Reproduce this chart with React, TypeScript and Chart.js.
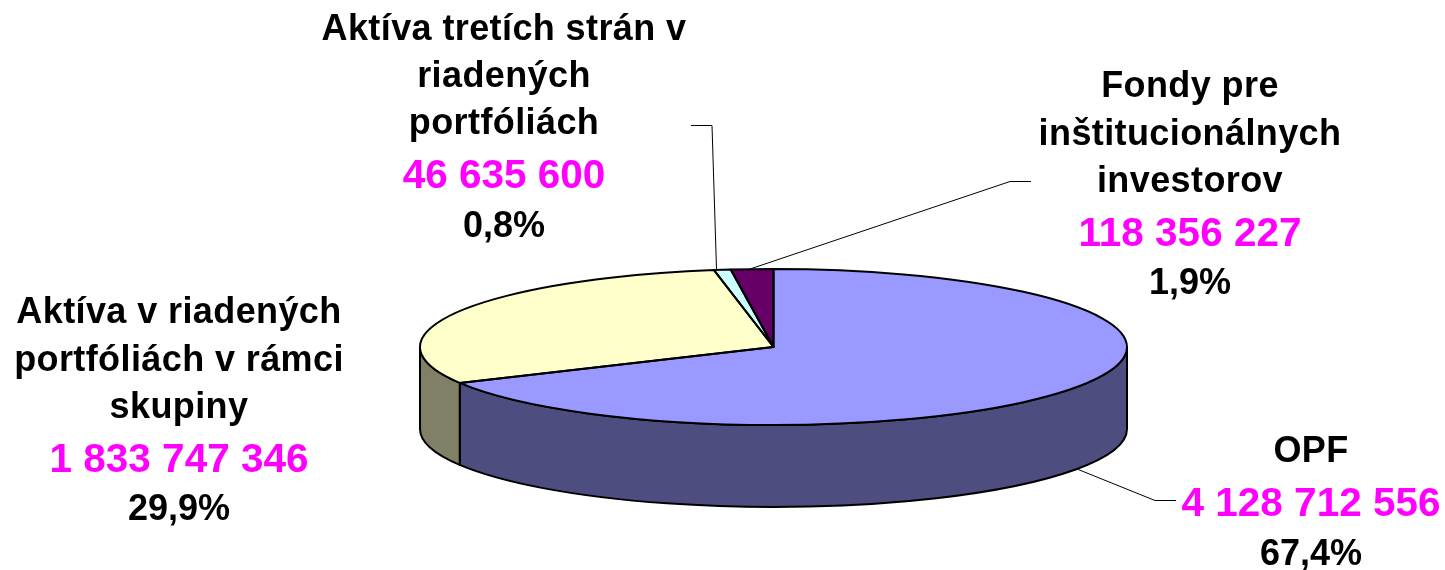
import React, { useEffect, useRef } from "react";
import { Chart, registerables } from "chart.js";

Chart.register(...registerables);

const categories = ["OPF", "Aktíva v riadených portfóliách v rámci skupiny", "Aktíva tretích strán v riadených portfóliách", "Fondy pre inštitucionálnych investorov"];
const values = [4128712556, 1833747346, 46635600, 118356227];
const valueLabels = ["4 128 712 556", "1 833 747 346", "46 635 600", "118 356 227"];
const percentLabels = ["67,4%", "29,9%", "0,8%", "1,9%"];
const nameLines = [
  ["OPF"],
  ["Aktíva v riadených", "portfóliách v rámci", "skupiny"],
  ["Aktíva tretích strán v", "riadených", "portfóliách"],
  ["Fondy pre", "inštitucionálnych", "investorov"],
];
const topColors = ["#9999FF", "#FFFFCC", "#CCFFFF", "#660066"];
const wallColors = ["#4D4D80", "#808066", "#668080", "#330033"];

// Layout of the text blocks: centre x and the baselines of each line.
const labelCentres = [1311, 179, 504, 1190];
const labelBaselines = [
  [462, 516, 565],
  [323, 371, 418, 472, 520],
  [40, 87, 134, 188, 237],
  [97, 145, 192, 246, 294],
];
// Leader line elbows, and their ends beside the labels.
const leaders = [
  { edge: 0, elbow: [1155, 500.5], end: [1176, 500.5] },
  { edge: 2, elbow: [712, 125.5], end: [691, 125.5] },
  { edge: 3, elbow: [1010, 181.5], end: [1031, 181.5] },
];
const leaderEnds: Record<number, [number, number]> = { 0: [1077, 469], 2: [716.5, 269], 3: [750, 269] };

const RX = 353.5;
const RY = 78;
const DEPTH = 82;
const CX = 773.5;
const CY = 347;

const pie3d = {
  id: "pie3d",
  beforeDatasetsDraw(chart: any) {
    const ctx = chart.ctx;
    const arcs = chart.getDatasetMeta(0).data;
    // walls: the part of every slice that faces front
    ctx.save();
    ctx.lineWidth = 2;
    ctx.strokeStyle = "#000";
    ctx.lineJoin = "round";
    arcs.forEach((arc: any, i: number) => {
      const a0 = Math.max(arc.startAngle, 0);
      const a1 = Math.min(arc.endAngle, Math.PI);
      if (a1 <= a0) return;
      ctx.beginPath();
      ctx.ellipse(arc.x, arc.y, RX, RY, 0, a0, a1);
      ctx.ellipse(arc.x, arc.y + DEPTH, RX, RY, 0, a1, a0, true);
      ctx.closePath();
      ctx.fillStyle = wallColors[i];
      ctx.fill();
      ctx.stroke();
    });
    ctx.restore();
    // flatten the pie itself
    ctx.save();
    ctx.translate(CX, CY);
    ctx.scale(1, RY / RX);
    ctx.translate(-CX, -CY);
  },
  afterDatasetsDraw(chart: any) {
    const ctx = chart.ctx;
    ctx.restore();
    const arcs = chart.getDatasetMeta(0).data;
    ctx.save();
    ctx.lineWidth = 2;
    ctx.strokeStyle = "#000";
    ctx.lineJoin = "round";
    arcs.forEach((arc: any) => {
      ctx.beginPath();
      ctx.moveTo(arc.x, arc.y);
      ctx.ellipse(arc.x, arc.y, RX, RY, 0, arc.startAngle, arc.endAngle);
      ctx.closePath();
      ctx.stroke();
    });
    ctx.restore();
  },
  afterDraw(chart: any) {
    const ctx = chart.ctx;
    ctx.save();
    ctx.strokeStyle = "#000";
    ctx.lineWidth = 1;
    leaders.forEach((l) => {
      const start = leaderEnds[l.edge];
      ctx.beginPath();
      ctx.moveTo(start[0], start[1]);
      ctx.lineTo(l.elbow[0], l.elbow[1]);
      ctx.lineTo(l.end[0], l.end[1]);
      ctx.stroke();
    });
    ctx.textAlign = "center";
    ctx.textBaseline = "alphabetic";
    categories.forEach((_, i) => {
      const lines = nameLines[i];
      const ys = labelBaselines[i];
      const x = labelCentres[i];
      ctx.fillStyle = "#000";
      ctx.font = 'bold 36px "Liberation Sans"';
      ctx.letterSpacing = "0.4px";
      lines.forEach((t, j) => ctx.fillText(t, x, ys[j]));
      ctx.fillStyle = "#FF00FF";
      ctx.font = 'bold 40.5px "Liberation Sans"';
      ctx.letterSpacing = "0px";
      ctx.fillText(valueLabels[i], x, ys[lines.length]);
      ctx.fillStyle = "#000";
      ctx.font = 'bold 36px "Liberation Sans"';
      ctx.fillText(percentLabels[i], x, ys[lines.length + 1]);
    });
    ctx.restore();
  },
};

export default function App() {
  const ref = useRef<HTMLCanvasElement>(null);
  useEffect(() => {
    document.body.style.margin = "0";
    document.body.style.background = "#fff";
    const chart = new Chart(ref.current as HTMLCanvasElement, {
      type: "pie",
      data: {
        labels: categories,
        datasets: [
          {
            data: values,
            backgroundColor: topColors,
            borderWidth: 0,
            clip: false,
          } as any,
        ],
      },
      options: {
        responsive: false,
        animation: false,
        radius: RX,
        layout: { padding: { left: 102, top: 124, right: 0, bottom: 0 } },
        plugins: { legend: { display: false }, tooltip: { enabled: false }, title: { display: false } },
      } as any,
      plugins: [pie3d as any],
    });
    return () => chart.destroy();
  }, []);
  return <canvas ref={ref} width={1445} height={570} style={{ display: "block" }} />;
}
